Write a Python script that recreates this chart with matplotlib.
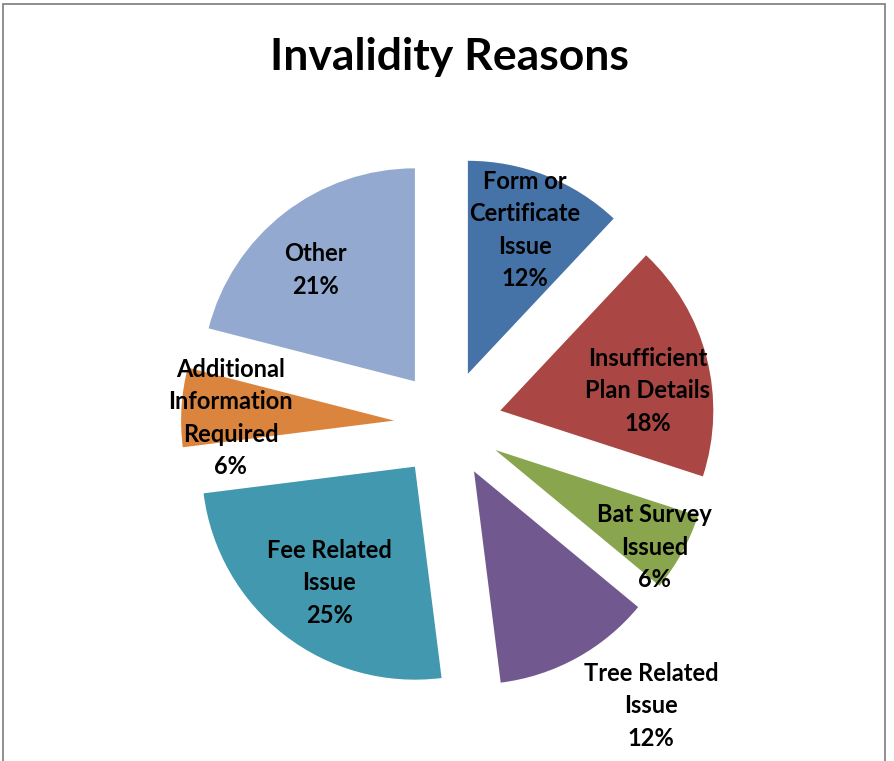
import math
from matplotlib import pyplot as plt
from matplotlib.patches import Rectangle

# data (clockwise from 12 o'clock)
labels = ['Form or\nCertificate\nIssue', 'Insufficient\nPlan Details', 'Bat Survey\nIssued',
          'Tree Related\nIssue', 'Fee Related\nIssue', 'Additional\nInformation\nRequired', 'Other']
values = [12, 18, 6, 12, 25, 6, 21]
colors = ['#4572A7', '#AA4643', '#89A54E', '#71588F', '#4198AF', '#DB843D', '#93A9CF']

# label placement (radius from pie centre, angle nudge in degrees)
lab_dist = [0.98, 0.95, 1.13, 1.63, 0.93, 1.02, 0.955]
lab_nudge = [0, -5, -2, 7, 1, 2, 3]

W, H = 894, 761
cx, cy, R = 448, 424, 213   # pixel centre / radius of the pie

plt.rcParams['font.family'] = 'Lato'

fig = plt.figure(figsize=(W / 100, H / 100), dpi=100)
ax = fig.add_axes([0, 0, 1, 1])

wedges, _ = ax.pie(values, colors=colors, startangle=90, counterclock=False,
                   explode=[54 / 213] * len(values), radius=1,
                   wedgeprops=dict(linewidth=0))

for w, lab, v, d, n in zip(wedges, labels, values, lab_dist, lab_nudge):
    mid = math.radians((w.theta1 + w.theta2) / 2 + n)
    ax.text(d * math.cos(mid), d * math.sin(mid), '%s\n%d%%' % (lab, v),
            ha='center', va='center', fontsize=17, fontweight='bold',
            linespacing=1.5, color='black')

ax.set_xlim(-cx / R, (W - cx) / R)
ax.set_ylim(-(H - cy) / R, cy / R)
ax.set_aspect('auto')
ax.axis('off')

fig.text(449 / W, 1 - 57 / H, 'Invalidity Reasons', ha='center', va='center',
         fontsize=32, fontweight='bold')

fig.add_artist(Rectangle((3 / W, -0.02), 882 / W, 1.02 - 3.5 / H,
                         transform=fig.transFigure, fill=False,
                         edgecolor='#868686', linewidth=1.3))

fig.savefig('out.png', dpi=100)
